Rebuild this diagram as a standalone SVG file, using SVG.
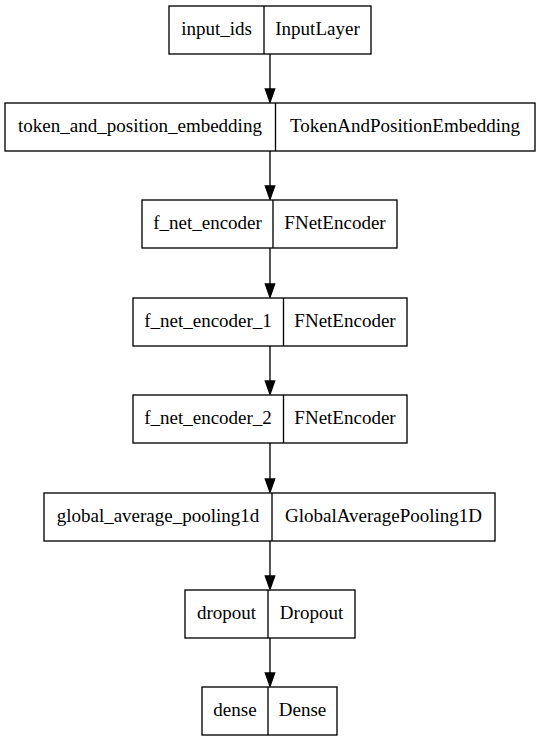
<svg xmlns="http://www.w3.org/2000/svg" width="540" height="741" viewBox="0 0 540 741">
<defs>
<style>
.box{fill:#fff;stroke:#000;stroke-width:1.33}
.div{stroke:#000;stroke-width:1.33}
.t{font-size:19px;fill:#000;text-anchor:middle}
.edge{stroke:#000;stroke-width:1.33;fill:none}
.ah{fill:#000;stroke:#000;stroke-width:1.33}
</style>
</defs>
<rect width="540" height="741" fill="#fff"/>
<g id="connectors">
<line class="edge" x1="270" y1="54" x2="270" y2="89"/><polygon class="ah" points="265.3,89 274.7,89 270,102.3"/>
<line class="edge" x1="270" y1="151" x2="270" y2="186"/><polygon class="ah" points="265.3,186 274.7,186 270,199.3"/>
<line class="edge" x1="270" y1="248" x2="270" y2="284"/><polygon class="ah" points="265.3,284 274.7,284 270,297.3"/>
<line class="edge" x1="270" y1="346" x2="270" y2="381"/><polygon class="ah" points="265.3,381 274.7,381 270,394.3"/>
<line class="edge" x1="270" y1="443" x2="270" y2="479"/><polygon class="ah" points="265.3,479 274.7,479 270,492.3"/>
<line class="edge" x1="270" y1="541" x2="270" y2="576"/><polygon class="ah" points="265.3,576 274.7,576 270,589.3"/>
<line class="edge" x1="270" y1="638" x2="270" y2="673"/><polygon class="ah" points="265.3,673 274.7,673 270,686.3"/>
</g>
<g font-family="'Liberation Serif', 'Times New Roman', serif">
<g id="input_ids">
<rect class="box" x="169" y="6" width="202" height="48"/><line class="div" x1="264" y1="6" x2="264" y2="54"/>
<text class="t" x="216.5" y="35">input_ids</text><text class="t" x="317.5" y="35">InputLayer</text>
</g>
<g id="token_and_position_embedding">
<rect class="box" x="5" y="103" width="530" height="48"/><line class="div" x1="275.5" y1="103" x2="275.5" y2="151"/>
<text class="t" x="140" y="132">token_and_position_embedding</text><text class="t" x="405" y="132">TokenAndPositionEmbedding</text>
</g>
<g id="f_net_encoder">
<rect class="box" x="142" y="200" width="255" height="48"/><line class="div" x1="273" y1="200" x2="273" y2="248"/>
<text class="t" x="207.5" y="229">f_net_encoder</text><text class="t" x="335" y="229">FNetEncoder</text>
</g>
<g id="f_net_encoder_1">
<rect class="box" x="133" y="298" width="274" height="48"/><line class="div" x1="283.5" y1="298" x2="283.5" y2="346"/>
<text class="t" x="208" y="327">f_net_encoder_1</text><text class="t" x="345" y="327">FNetEncoder</text>
</g>
<g id="f_net_encoder_2">
<rect class="box" x="133" y="395" width="274" height="48"/><line class="div" x1="283.5" y1="395" x2="283.5" y2="443"/>
<text class="t" x="208" y="424">f_net_encoder_2</text><text class="t" x="345" y="424">FNetEncoder</text>
</g>
<g id="global_average_pooling1d">
<rect class="box" x="44" y="493" width="451" height="48"/><line class="div" x1="272" y1="493" x2="272" y2="541"/>
<text class="t" x="158" y="522">global_average_pooling1d</text><text class="t" x="383.5" y="522">GlobalAveragePooling1D</text>
</g>
<g id="dropout">
<rect class="box" x="185" y="590" width="170" height="48"/><line class="div" x1="268" y1="590" x2="268" y2="638"/>
<text class="t" x="226.5" y="619">dropout</text><text class="t" x="311.5" y="619">Dropout</text>
</g>
<g id="dense">
<rect class="box" x="202" y="687" width="135" height="48"/><line class="div" x1="268" y1="687" x2="268" y2="735"/>
<text class="t" x="235" y="716">dense</text><text class="t" x="302.5" y="716">Dense</text>
</g>
</g>
</svg>
